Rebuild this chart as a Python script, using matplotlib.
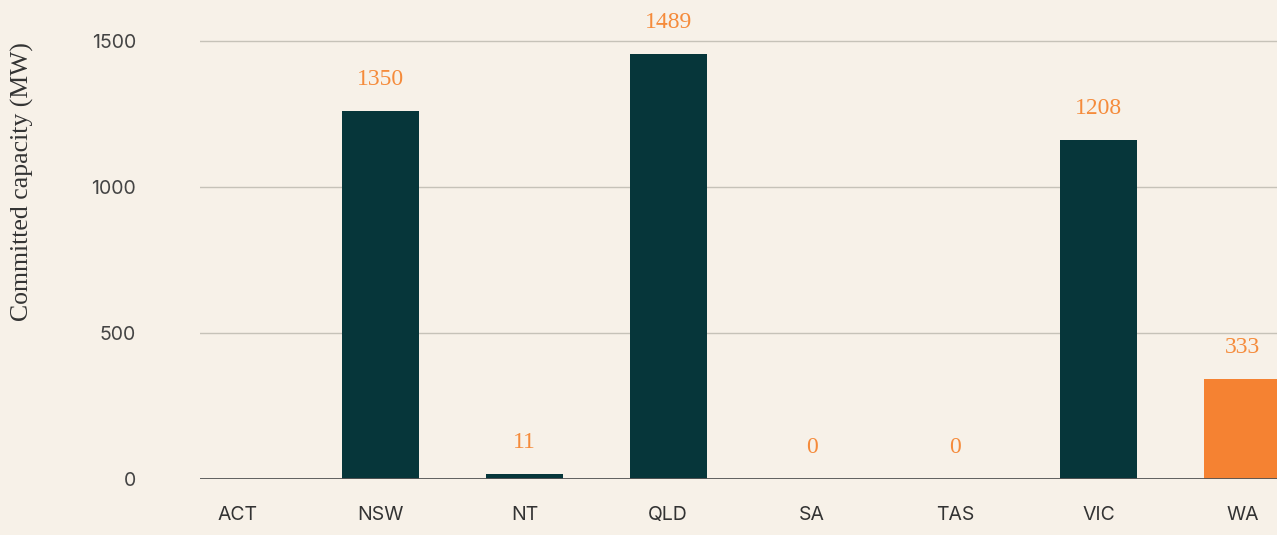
import numpy as np
import matplotlib.pyplot as plt

# committed capacity by state
STATES = ["ACT", "NSW", "NT", "QLD", "SA", "TAS", "VIC", "WA"]
BAR_HEIGHTS = [0, 1258, 15, 1455, 0, 0, 1160, 341]
LABELS = ["", "1350", "11", "1489", "0", "0", "1208", "333"]

BG = "#F7F1E8"
DARK = "#06363A"
ORANGE = "#F58232"

fig = plt.figure(figsize=(12.77, 5.35), dpi=100, facecolor=BG)
ax = fig.add_axes([200 / 1277, 56.5 / 535, 1 - 200 / 1277, (478.5 - 11.3) / 535])
ax.set_facecolor(BG)

x = np.arange(len(STATES))
colors = [ORANGE if s == "WA" else DARK for s in STATES]
bars = ax.bar(x, BAR_HEIGHTS, width=0.536, color=colors, zorder=3)

for xi, h, lab in zip(x, BAR_HEIGHTS, LABELS):
    if lab == "":
        continue
    ax.annotate(lab, (xi, h), xytext=(0, 15), textcoords="offset points",
                ha="center", va="bottom", color="#F58B3B",
                fontsize=17, family="Liberation Serif", zorder=4)

ax.set_xlim(-0.26, 7.24)
ax.set_ylim(0, 1600)
ax.set_yticks([0, 500, 1000, 1500])
ax.set_xticks(x)
ax.set_xticklabels(STATES)
ax.grid(axis="y", color="#C6C2B8", linewidth=1, zorder=0)
ax.axhline(0, color="#555555", linewidth=1.3, zorder=5)

for s in ax.spines.values():
    s.set_visible(False)
ax.tick_params(axis="both", length=0, labelsize=14, colors="#333333")
ax.tick_params(axis="y", pad=46, labelcolor="#444444")
ax.tick_params(axis="x", pad=20)
for t in ax.get_xticklabels() + ax.get_yticklabels():
    t.set_family("Inter")

fig.text(22 / 1277, (535 - 182) / 535, "Committed capacity (MW)", rotation=90, ha="center",
         va="center", fontsize=18.5, family="Liberation Serif", color="#333333")

fig.savefig("out.png", dpi=100, facecolor=BG)
